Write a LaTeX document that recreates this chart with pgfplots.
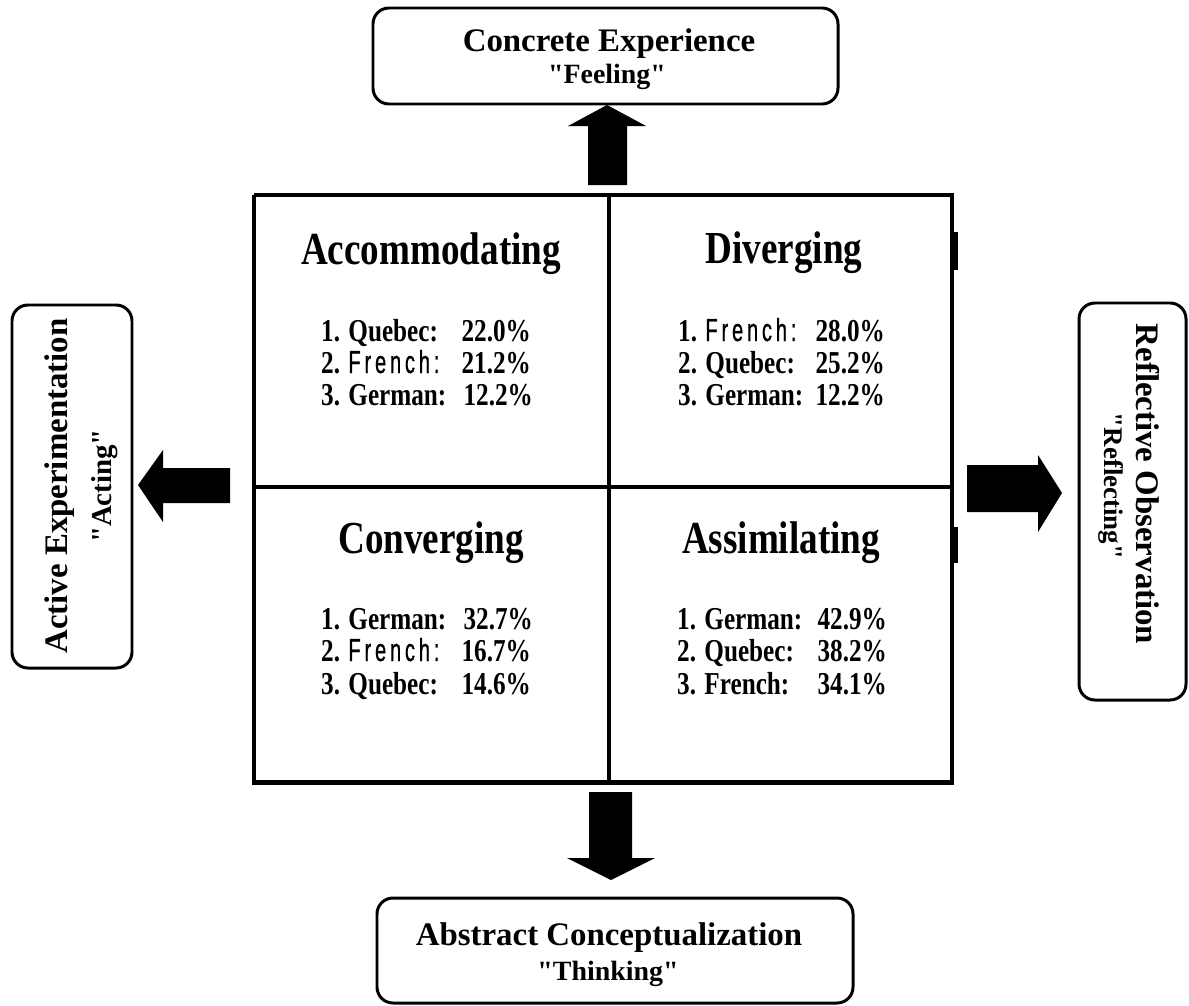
\documentclass[border=0pt]{standalone}
\usepackage{pgfplots}
\pgfplotsset{compat=1.18}
\usepackage{fontspec}
\setmainfont{Liberation Serif}[Ligatures=TeXOff]
\newfontfamily\frfont[LetterSpace=15,FakeStretch=0.8,FakeBold=0.8]{Liberation Sans}
\newcommand\fs[1]{\fontsize{#1}{#1}\selectfont\bfseries}
\newcommand\fr{\frfont\mdseries French:}
\tikzset{
  tt/.style={inner sep=0,anchor=base,xscale=0.81,font=\fs{46}},
  ll/.style={inner sep=0,anchor=base west,xscale=0.79,font=\fs{32}},
  pp/.style={inner sep=0,anchor=base east,xscale=0.79,font=\fs{32}}}
\begin{document}
\begin{tikzpicture}
\begin{axis}[width=1189bp,height=1006bp,scale only axis,
  xmin=0,xmax=1189,ymin=0,ymax=1006,y dir=reverse,axis lines=none,clip=false]
\path (axis cs:0,0) rectangle (axis cs:1189,1006);
% main square
\addplot[black,line width=5,line join=miter] coordinates {(254,195) (952,195) (952,782) (254,782) (254,195)};
\addplot[black,line width=5] coordinates {(609,195) (609,782)};
\addplot[black,line width=5] coordinates {(254,487) (952,487)};
\addplot[black,line width=5] coordinates {(955.5,232) (955.5,270)};
\addplot[black,line width=5] coordinates {(955.5,527) (955.5,563)};
% arrows
\addplot[fill=black,draw=none] coordinates {(588,185) (588,126) (568,126) (607,105) (646,126) (627,126) (627,185)} -- cycle;
\addplot[fill=black,draw=none] coordinates {(589,792) (632,792) (632,858) (655,858) (611,880) (567,858) (589,858)} -- cycle;
\addplot[fill=black,draw=none] coordinates {(230,468) (230,503) (163,503) (163,522) (138,485) (163,450) (163,468)} -- cycle;
\addplot[fill=black,draw=none] coordinates {(967,465) (1038,465) (1038,455) (1062,493) (1038,532) (1038,512) (967,512)} -- cycle;
% boxes
\draw[line width=3,rounded corners=16] (axis cs:373,8) rectangle (axis cs:838,104);
\draw[line width=3,rounded corners=16] (axis cs:377,898) rectangle (axis cs:853,1003);
\draw[line width=3,rounded corners=16] (axis cs:12,305) rectangle (axis cs:132,668);
\draw[line width=3,rounded corners=16] (axis cs:1079,303) rectangle (axis cs:1186,700);
% box texts
\node[inner sep=0,anchor=base,font=\fs{33}] at (axis cs:609,51) {Concrete Experience};
\node[inner sep=0,anchor=base,font=\fs{28}] at (axis cs:607,83) {"Feeling"};
\node[inner sep=0,anchor=base,font=\fs{33}] at (axis cs:609,945) {Abstract Conceptualization};
\node[inner sep=0,anchor=base,font=\fs{28}] at (axis cs:608,980) {"Thinking"};
\node[inner sep=0,rotate=90,font=\fs{33}] at (axis cs:60,486) {Active Experimentation};
\node[inner sep=0,rotate=90,font=\fs{29}] at (axis cs:105,486) {"Acting"};
\node[inner sep=0,rotate=-90,font=\fs{33}] at (axis cs:1148,484) {Reflective Observation};
\node[inner sep=0,rotate=-90,font=\fs{27}] at (axis cs:1111,486) {"Reflecting"};
% quadrant titles
\node[tt] at (axis cs:431,264) {Accommodating};
\node[tt] at (axis cs:784,263) {Diverging};
\node[tt] at (axis cs:431,553) {Converging};
\node[tt] at (axis cs:781,553) {Assimilating};
% Accommodating
\node[ll] at (axis cs:321,341) {1. Quebec:};
\node[pp] at (axis cs:531,341) {22.0\%};
\node[ll] at (axis cs:321,373) {2. \fr};
\node[pp] at (axis cs:531,373) {21.2\%};
\node[ll] at (axis cs:321,405) {3. German:};
\node[pp] at (axis cs:533,405) {12.2\%};
% Diverging
\node[ll] at (axis cs:678,341) {1. \fr};
\node[pp] at (axis cs:885,341) {28.0\%};
\node[ll] at (axis cs:678,373) {2. Quebec:};
\node[pp] at (axis cs:885,373) {25.2\%};
\node[ll] at (axis cs:678,405) {3. German:};
\node[pp] at (axis cs:885,405) {12.2\%};
% Converging
\node[ll] at (axis cs:321,629) {1. German:};
\node[pp] at (axis cs:533,629) {32.7\%};
\node[ll] at (axis cs:321,661) {2. \fr};
\node[pp] at (axis cs:531,661) {16.7\%};
\node[ll] at (axis cs:321,694) {3. Quebec:};
\node[pp] at (axis cs:531,694) {14.6\%};
% Assimilating
\node[ll] at (axis cs:677,629) {1. German:};
\node[pp] at (axis cs:887,629) {42.9\%};
\node[ll] at (axis cs:677,661) {2. Quebec:};
\node[pp] at (axis cs:887,661) {38.2\%};
\node[ll] at (axis cs:677,694) {3. French:};
\node[pp] at (axis cs:887,694) {34.1\%};
\end{axis}
\end{tikzpicture}
\end{document}
